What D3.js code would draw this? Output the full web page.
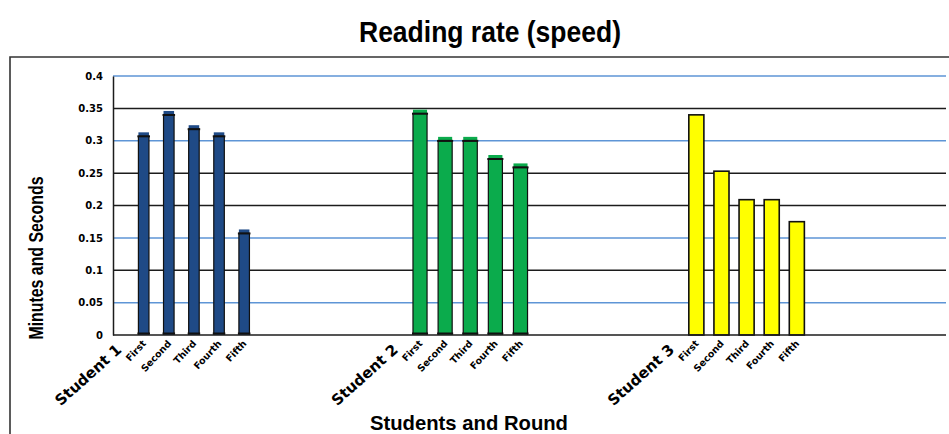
<!DOCTYPE html>
<html>
<head>
<meta charset="utf-8">
<script src="https://cdn.jsdelivr.net/npm/d3@7"></script>
<style>
  html, body { margin: 0; padding: 0; background: #fff; }
  svg { display: block; }
  .narrow { font-family: "Liberation Sans Narrow", "Arial Narrow", "Liberation Sans", Arial, sans-serif; font-weight: bold; }
  .lab { font-family: "DejaVu Sans", "Liberation Sans", Arial, sans-serif; font-weight: bold; }
</style>
</head>
<body>
<svg id="chart" width="949" height="434"></svg>
<script>
// Reading speed per student, five rounds each
const students = ["Student 1", "Student 2", "Student 3"];
const rounds = ["First", "Second", "Third", "Fourth", "Fifth"];
const student1 = [0.313, 0.346, 0.324, 0.313, 0.163];
const student2 = [0.348, 0.306, 0.306, 0.278, 0.265];
const student3 = [0.340, 0.253, 0.209, 0.209, 0.175];
const yTicks = [0, 0.05, 0.1, 0.15, 0.2, 0.25, 0.3, 0.35, 0.4];
const yTickLabels = ["0", "0.05", "0.1", "0.15", "0.2", "0.25", "0.3", "0.35", "0.4"];
const blueRules = [0.05, 0.15, 0.3, 0.4];

const seriesValues = [student1, student2, student3];
const seriesStyle = [
  { fill: "#1f4a86", width: 0.42, outlined: false },
  { fill: "#0bab4c", width: 0.56, outlined: false },
  { fill: "#ffff00", width: 0.6, outlined: true }
];
const emptySlots = 5;

const svg = d3.select("#chart");
svg.append("rect").attr("width", 949).attr("height", 434).attr("fill", "#fff");

const plotLeft = 113, plotRight = 946;
const y = d3.scaleLinear().domain([0, 0.4]).range([335, 76]);

// one slot per category: the student name, its five rounds, then a gap
const slots = [];
students.forEach(s => {
  slots.push(s);
  rounds.forEach(r => slots.push(s + "|" + r));
  for (let i = 0; i < emptySlots; i++) slots.push(s + "|gap" + i);
});
const x = d3.scaleBand().domain(slots).range([106, 935]);
const bw = x.bandwidth();
const cx = k => x(k) + bw / 2;

// title
svg.append("text").attr("class", "narrow")
  .attr("x", 490).attr("y", 42).attr("text-anchor", "middle")
  .attr("font-size", 30).attr("textLength", 262).attr("lengthAdjust", "spacingAndGlyphs")
  .text("Reading rate (speed)");

// chart frame
svg.append("path").attr("d", "M10,434V57H949")
  .attr("fill", "none").attr("stroke", "#333").attr("stroke-width", 1.6);

// horizontal rules
svg.append("g").selectAll("line").data(yTicks.filter(t => t > 0)).join("line")
  .attr("x1", plotLeft).attr("x2", plotRight)
  .attr("y1", d => y(d)).attr("y2", d => y(d))
  .attr("stroke", d => blueRules.includes(d) ? "#5e95d6" : "#1c1c1c")
  .attr("stroke-width", 1.5);

// y axis
const yAxis = svg.append("g").attr("transform", `translate(${plotLeft},0)`)
  .call(d3.axisLeft(y).tickValues(yTicks).tickSize(0).tickPadding(10)
    .tickFormat((d, i) => yTickLabels[i]));
yAxis.select(".domain").attr("stroke", "#1c1c1c").attr("stroke-width", 1.5);
yAxis.selectAll("text").attr("class", "lab").attr("font-size", 10).attr("fill", "#000");

// bars
seriesValues.forEach((vals, si) => {
  const st = seriesStyle[si];
  const w = bw * st.width;
  const g = svg.append("g");
  const data = vals.map((v, i) => ({ key: students[si] + "|" + rounds[i], v }));
  g.selectAll("rect.fill").data(data).join("rect").attr("class", "fill")
    .attr("x", d => cx(d.key) - w / 2).attr("width", w)
    .attr("y", d => y(d.v)).attr("height", d => y(0) - y(d.v))
    .attr("fill", st.fill)
    .attr("stroke", st.outlined ? "#111" : "none").attr("stroke-width", 1.6);
  if (!st.outlined) {
    // edge outline from the cap down to the base
    g.selectAll("path.edge").data(data).join("path").attr("class", "edge")
      .attr("d", d => `M${cx(d.key) - w / 2},${y(0)}V${y(d.v) + 4}H${cx(d.key) + w / 2}V${y(0)}`)
      .attr("fill", "none").attr("stroke", "#111").attr("stroke-width", 1.2);
    g.selectAll("line.cap").data(data).join("line").attr("class", "cap")
      .attr("x1", d => cx(d.key) - w / 2 - 1).attr("x2", d => cx(d.key) + w / 2 + 1)
      .attr("y1", d => y(d.v) + 4).attr("y2", d => y(d.v) + 4)
      .attr("stroke", "#111").attr("stroke-width", 2);
    g.selectAll("line.base").data(data).join("line").attr("class", "base")
      .attr("x1", d => cx(d.key) - w / 2 - 1).attr("x2", d => cx(d.key) + w / 2 + 1)
      .attr("y1", y(0) - 1.5).attr("y2", y(0) - 1.5)
      .attr("stroke", "#111").attr("stroke-width", 2);
  }
});

// baseline
svg.append("line").attr("x1", plotLeft).attr("x2", plotRight)
  .attr("y1", y(0)).attr("y2", y(0)).attr("stroke", "#1c1c1c").attr("stroke-width", 1.6);

// category labels
const y0 = y(0);
students.forEach(s => {
  rounds.forEach(r => {
    svg.append("text").attr("class", "lab")
      .attr("font-size", 9.5).attr("text-anchor", "end")
      .attr("transform", `translate(${cx(s + "|" + r) + 3},${y0 + 9}) rotate(-47)`)
      .text(r);
  });
  svg.append("text").attr("class", "lab")
    .attr("font-size", 15).attr("text-anchor", "end")
    .attr("transform", `translate(${cx(s) + 4},${y0 + 16}) rotate(-42)`)
    .text(s);
});

// axis titles
svg.append("text").attr("class", "narrow")
  .attr("x", 469).attr("y", 430).attr("text-anchor", "middle")
  .attr("font-size", 21).attr("textLength", 198).attr("lengthAdjust", "spacingAndGlyphs")
  .text("Students and Round");
svg.append("text").attr("class", "narrow")
  .attr("transform", "translate(43,258) rotate(-90)").attr("text-anchor", "middle")
  .attr("font-size", 20).attr("textLength", 163).attr("lengthAdjust", "spacingAndGlyphs")
  .text("Minutes and Seconds");
</script>
</body>
</html>
